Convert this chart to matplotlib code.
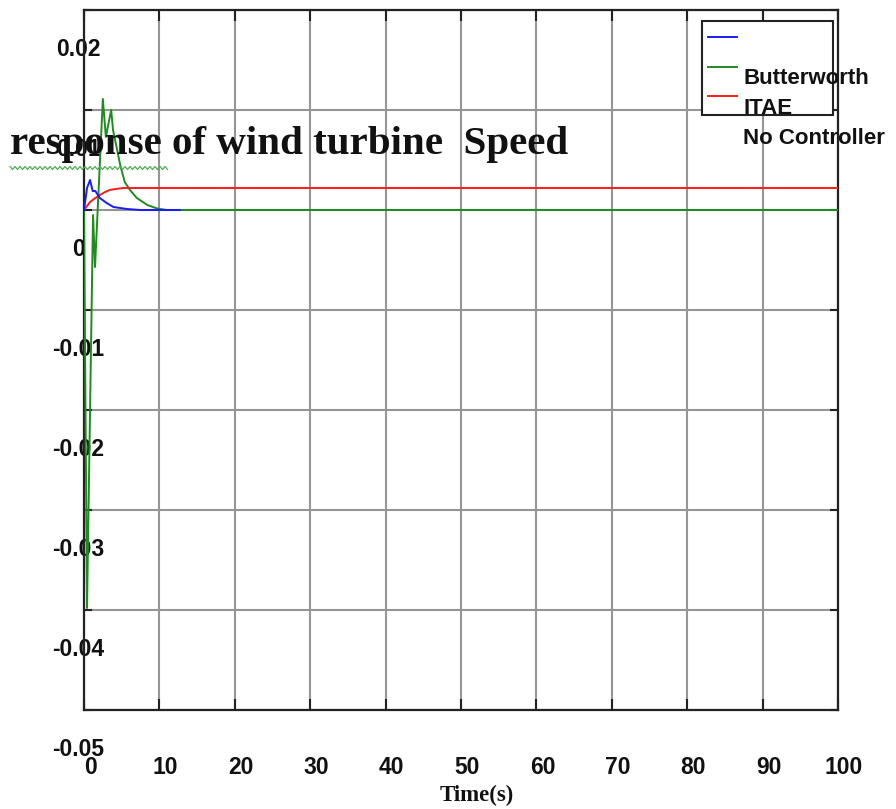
import numpy as np
import matplotlib
matplotlib.use("Agg")
import matplotlib.pyplot as plt
from matplotlib.lines import Line2D
from matplotlib.transforms import ScaledTranslation, blended_transform_factory

# ---------------- data ----------------
t_butter = [0, 0.4, 0.8, 1.15, 1.5, 2.1, 3.0, 3.9, 4.8, 5.7, 7.4, 12.7]
v_butter = [0, 0.0022, 0.0030, 0.0019, 0.0019, 0.0012, 0.0007, 0.0003, 0.0002, 0.0001, 0.0, 0.0]

t_itae = [0, 0.4, 1.2, 1.46, 2.5, 2.9, 3.6, 3.85, 4.4, 4.8, 5.4, 6.1, 7.0, 8.4, 9.7, 11.0, 100]
v_itae = [0, -0.0398, -0.0005, -0.0057, 0.0111, 0.0073, 0.0100, 0.0080, 0.0060, 0.0045,
          0.0028, 0.0020, 0.0012, 0.0005, 0.00015, 0.0, 0.0]

t_noctrl = [0, 0.4, 0.8, 1.5, 2.1, 2.8, 3.4, 4.2, 5.2, 6.5, 100]
v_noctrl = [0, 0.0004, 0.0008, 0.0012, 0.0015, 0.0018, 0.0020, 0.0021, 0.0022, 0.0022, 0.0022]

series_labels = ["Butterworth", "ITAE", "No Controller"]
series_colors = ["#1a1aff", "#1e8c1e", "#ff1a1a"]
series_z = [4, 3, 3]

x_ticks = [0, 10, 20, 30, 40, 50, 60, 70, 80, 90, 100]
x_ticklabels = ["0", "10", "20", "30", "40", "50", "60", "70", "80", "90", "100"]
y_ticks = [0.02, 0.01, 0.0, -0.01, -0.02, -0.03, -0.04, -0.05]
y_ticklabels = ["0.02", "0.01", "0", "-0.01", "-0.02", "-0.03", "-0.04", "-0.05"]

title = "response of wind turbine  Speed"
xlabel = "Time(s)"

# ---------------- figure ----------------
W, H, DPI = 896, 809, 100
fig = plt.figure(figsize=(W / DPI, H / DPI), dpi=DPI)
ax = fig.add_axes([84 / W, 1 - 710 / H, 754 / W, 700 / H])

ax.set_xlim(0, 100)
ax.set_ylim(-0.05, 0.02)
ax.set_xticks(x_ticks)
ax.set_yticks(y_ticks)
ax.tick_params(axis="both", which="both", direction="in", top=True, right=True,
               labelbottom=False, labelleft=False, color="#222222", width=1.5)
ax.tick_params(axis="x", length=8)
ax.tick_params(axis="y", length=6)
ax.grid(True, color="#959595", linewidth=1.5)
ax.set_axisbelow(True)
for sp in ax.spines.values():
    sp.set_color("#222222")
    sp.set_linewidth(1.6)

lines = []
for t, v, c, z in zip([t_butter, t_itae, t_noctrl], [v_butter, v_itae, v_noctrl], series_colors, series_z):
    ln, = ax.plot(t, v, color=c, linewidth=1.4, zorder=z)
    lines.append(ln)

tick_font = dict(family="Liberation Sans", weight="bold", size=16.5, color="#111111")

# y tick labels (drawn shifted down, as in the reference)
ytrans = blended_transform_factory(ax.transAxes, ax.transData) + \
    ScaledTranslation(0, -40 / DPI, fig.dpi_scale_trans)
for v, s in zip(y_ticks, y_ticklabels):
    ax.text(-6 / 754, v, s, transform=ytrans, ha="center", va="center",
            clip_on=False, zorder=1, **tick_font)

# x tick labels
xtrans = blended_transform_factory(ax.transData, ax.transAxes) + \
    ScaledTranslation(6 / DPI, -57 / DPI, fig.dpi_scale_trans)
for v, s in zip(x_ticks, x_ticklabels):
    ax.text(v, 0, s, transform=xtrans, ha="center", va="center",
            clip_on=False, **tick_font)

ax.text(0.5, 0, xlabel, transform=ax.transAxes + ScaledTranslation(16 / DPI, -85 / DPI, fig.dpi_scale_trans),
        ha="center", va="center", family="Liberation Serif", weight="bold", size=16.5,
        color="#111111", clip_on=False)

# title
ax.set_title(title, x=(10 - 84) / 754, y=(710 - 162) / 700, loc="left",
             fontdict=dict(family="Liberation Serif", weight="bold", size=29.5, color="#111111"),
             zorder=5)

# spell-check squiggle under the first word
zx = np.arange(10, 168, 2.5)
zy = 168 + np.where(np.arange(len(zx)) % 2 == 0, -1.5, 1.5)
fig.add_artist(Line2D(zx / W, 1 - zy / H, color="#4caf50", linewidth=0.9, transform=fig.transFigure))

# legend box with line handles; names drawn below (shifted, as in the reference)
fs_leg = 16.5
leg = ax.legend(lines, ["", "", ""], loc="upper left",
                bbox_to_anchor=(702 / W, 1 - 116 / H, 131 / W, 95 / H),
                bbox_transform=fig.transFigure, mode="expand", borderaxespad=0,
                fontsize=fs_leg, handlelength=1.25, handletextpad=0.2,
                borderpad=0.27, labelspacing=0.28, fancybox=False, framealpha=1,
                edgecolor="#222222")
leg.get_frame().set_linewidth(1.5)
leg.set_zorder(6)

for i, s in enumerate(series_labels):
    fig.text(743 / W, 1 - (79 + 30 * i) / H, s, ha="left", va="center",
             family="Liberation Sans", weight="bold", size=16, color="#111111", zorder=7)

fig.savefig("out.png", dpi=DPI)
